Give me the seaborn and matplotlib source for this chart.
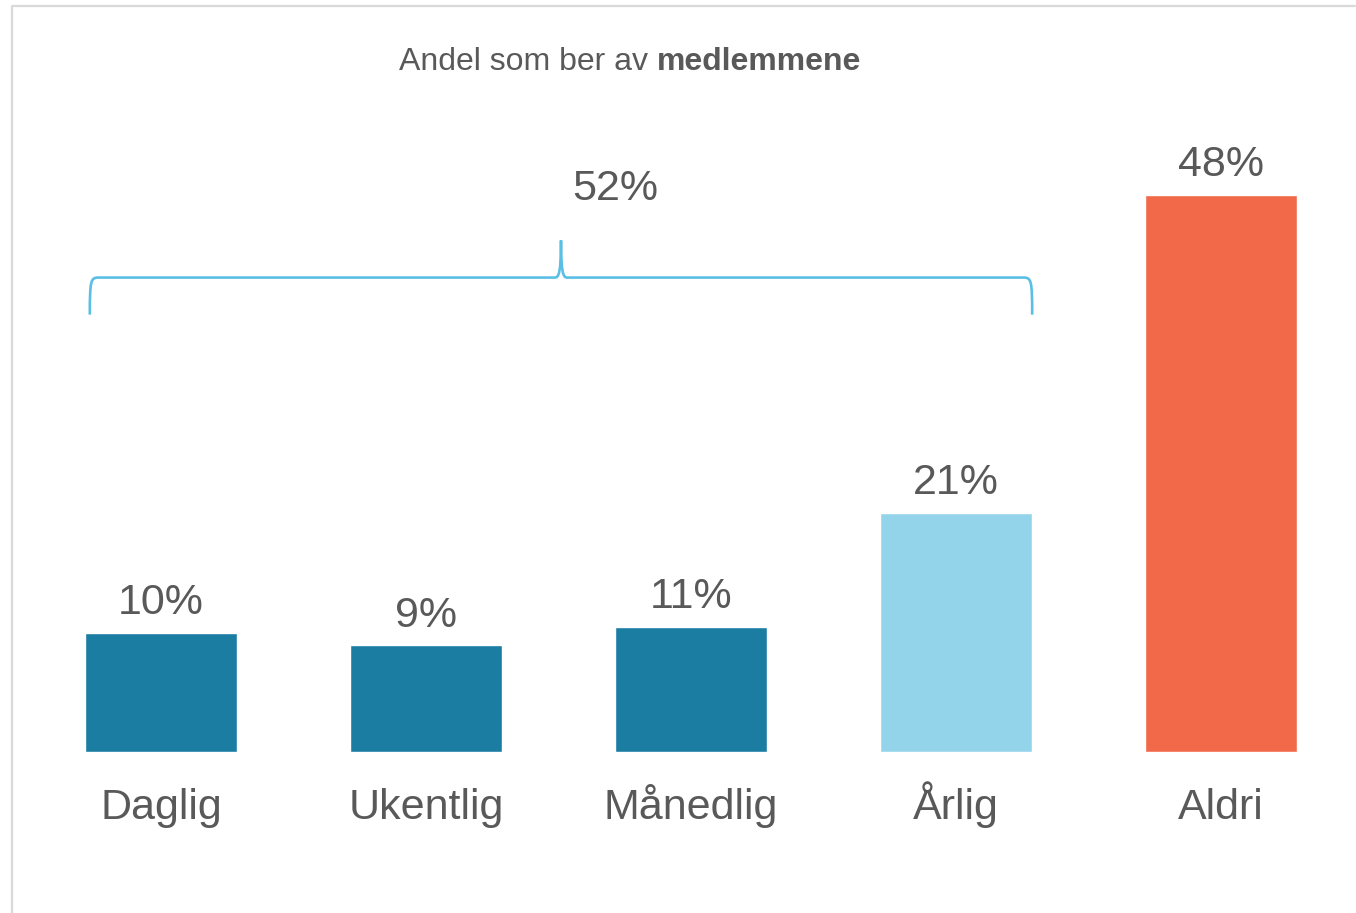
import numpy as np
import pandas as pd
import seaborn as sns
import matplotlib.pyplot as plt
from matplotlib.path import Path
from matplotlib.patches import PathPatch
from matplotlib.lines import Line2D

categories = ['Daglig', 'Ukentlig', 'Månedlig', 'Årlig', 'Aldri']
values = [10.3, 9.2, 10.8, 20.6, 48.0]
colors = ['#1C7DA3', '#1C7DA3', '#1C7DA3', '#93D4EB', '#F2694A']
group_label = '52%'
title_plain = 'Andel som ber av '
title_bold = 'medlemmene'

TXT = '#595959'

sns.set_theme(style='white')
plt.rcParams['font.family'] = ['Liberation Sans', 'DejaVu Sans']

df = pd.DataFrame({'kategori': categories, 'andel': values})

fig = plt.figure(figsize=(13.56, 9.13), dpi=100)
ax = fig.add_axes([28.5 / 1356, 161 / 913, 1325 / 1356, 696 / 913])

sns.barplot(data=df, x='kategori', y='andel', hue='kategori', palette=colors,
            width=0.575, legend=False, ax=ax, saturation=1)

ax.set_xlim(-0.5, 4.5)
ax.set_ylim(0, 60)
for c in ax.containers:
    ax.bar_label(c, labels=[f'{v:.0f}%' for v in c.datavalues], padding=7,
                 fontsize=31, color=TXT)

ax.set_xlabel('')
ax.set_ylabel('')
ax.set_yticks([])
ax.tick_params(axis='x', length=0, pad=48, labelsize=31, labelcolor=TXT)
for lab in ax.get_xticklabels():
    lab.set_verticalalignment('baseline')
sns.despine(ax=ax, left=True, bottom=True)

# brace over the first four bars
p = ax.patches
px = 1 / 265.0   # one pixel in x data units
py = 1 / 11.6    # one pixel in y data units
x0 = p[0].get_x() + 5 * px
x1 = p[3].get_x() + p[3].get_width()
xm = (x0 + x1) / 2
yb, yh, yt = 37.7, 40.9, 44.1
verts = [
    (x0, yb), (x0, yh - 2 * py), (x0 + 1 * px, yh), (x0 + 9 * px, yh),
    (xm - 6 * px, yh),
    (xm - 2 * px, yh), (xm, yh + 6 * py), (xm, yt),
    (xm, yh + 6 * py), (xm + 2 * px, yh), (xm + 6 * px, yh),
    (x1 - 9 * px, yh),
    (x1 - 1 * px, yh), (x1, yh - 2 * py), (x1, yb),
]
codes = [Path.MOVETO, Path.CURVE4, Path.CURVE4, Path.CURVE4,
         Path.LINETO,
         Path.CURVE4, Path.CURVE4, Path.CURVE4,
         Path.CURVE4, Path.CURVE4, Path.CURVE4,
         Path.LINETO,
         Path.CURVE4, Path.CURVE4, Path.CURVE4]
ax.add_patch(PathPatch(Path(verts, codes), fill=False, edgecolor='#5BBFE5',
                       lw=1.9, capstyle='butt'))
ax.text(1.713, 48.5, group_label, ha='center', va='center', fontsize=31, color=TXT)

# title: plain part + bold part
ty = 1 - 70 / 913
t1 = fig.text(399 / 1356, ty, title_plain, ha='left', va='baseline',
              fontsize=23, color=TXT)
fig.canvas.draw()
bb = t1.get_window_extent()
fig.text(bb.x1 / fig.bbox.width, ty, title_bold, ha='left', va='baseline',
         fontsize=23, color=TXT, fontweight='bold')

# thin frame on left and top
fig.add_artist(Line2D([12 / 1356, 12 / 1356, 1355 / 1356], [0, 1 - 6 / 913, 1 - 6 / 913],
                      transform=fig.transFigure, color='#D9D9D9', lw=1.6))

fig.savefig('out.png', dpi=100)
